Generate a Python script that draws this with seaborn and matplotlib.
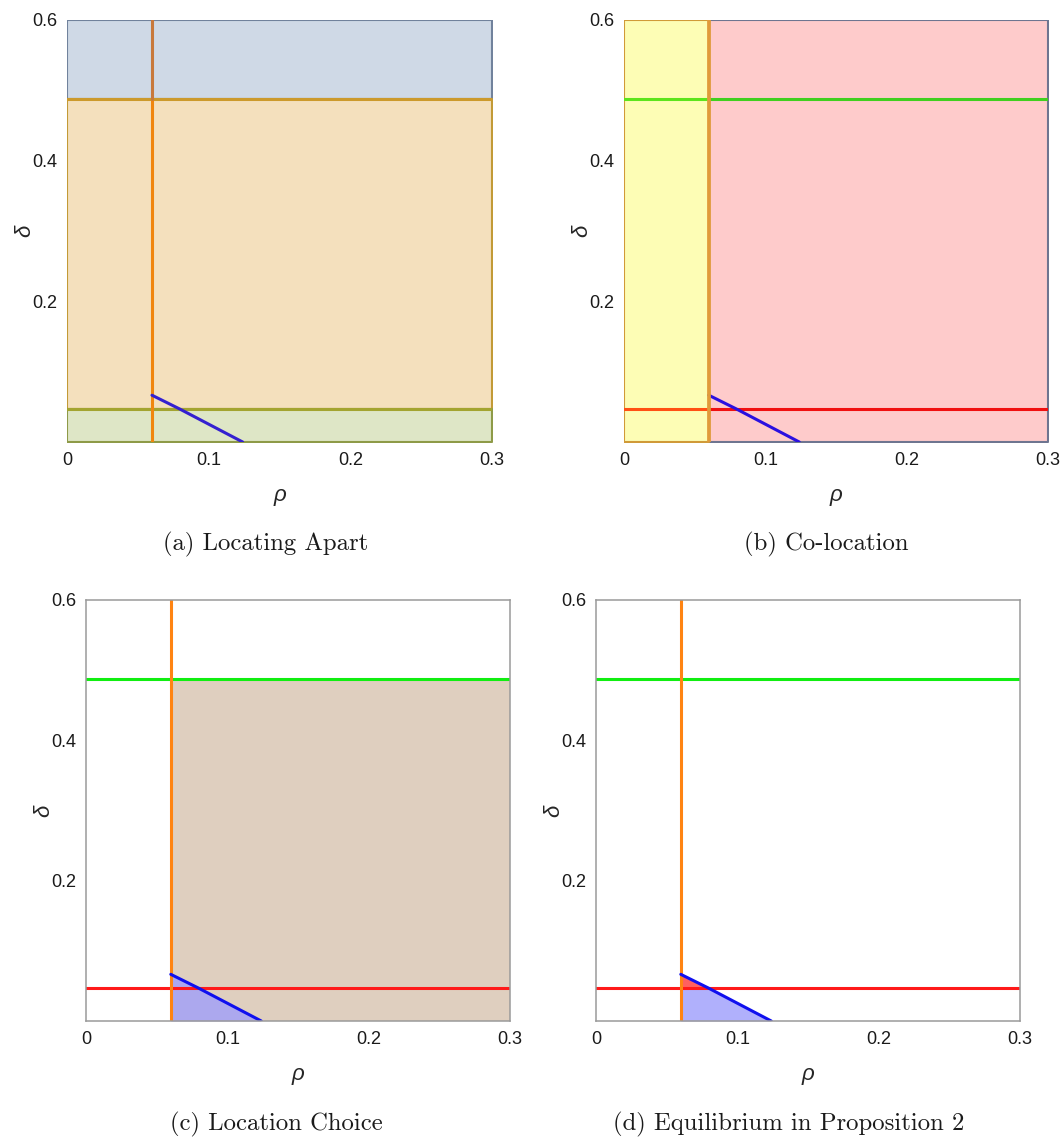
import numpy as np
import matplotlib
matplotlib.use("Agg")
import matplotlib.pyplot as plt
import seaborn as sns

# region boundaries
rho_max = 0.3
delta_max = 0.6
rho_bar = 0.06      # vertical orange line
delta_hi = 0.487    # upper horizontal line
delta_lo = 0.047    # lower horizontal line
# blue boundary: start, crossing with delta_lo, end on the axis
blue_rho = np.array([0.06, 0.0795, 0.1240])
blue_delta = np.array([0.0665, 0.047, 0.0])

x_ticks = [0, 0.1, 0.2, 0.3]
x_labels = ["0", "0.1", "0.2", "0.3"]
y_ticks = [0.2, 0.4, 0.6]
y_labels = ["0.2", "0.4", "0.6"]
captions = ["(a) Locating Apart", "(b) Co-location",
            "(c) Location Choice", "(d) Equilibrium in Proposition 2"]

sns.set_theme(style="white")
plt.rcParams['font.family'] = ['Liberation Sans', 'DejaVu Sans']

W, H = 1062, 1140
fig = plt.figure(figsize=(W / 100, H / 100), dpi=100)

def add_ax(l, t, r, b):
    return fig.add_axes([l / W, 1 - b / H, (r - l) / W, (b - t) / H])

def style(ax, frame=None):
    ax.set_xlim(0, rho_max)
    ax.set_ylim(0, delta_max)
    ax.set_xticks(x_ticks)
    ax.set_xticklabels(x_labels)
    ax.set_yticks(y_ticks)
    ax.set_yticklabels(y_labels)
    ax.tick_params(direction="in", length=4, width=1, color="#8a8a8a",
                   labelsize=13, labelcolor="#1a1a1a", pad=7)
    for s in ax.spines.values():
        if frame is None:
            s.set_visible(False)
        else:
            s.set_color(frame)
            s.set_linewidth(1.1)
    ax.set_xlabel("ρ", fontsize=16, fontstyle="italic", labelpad=12)
    ax.set_ylabel("δ", fontsize=16, fontstyle="italic", labelpad=-2)

full = [0, rho_max]
left = [0, rho_bar]
right = [rho_bar, rho_max]
lw = 2.2

# (a) Locating Apart
ax = add_ax(67, 20, 492, 442)
ax.fill_between(full, delta_hi, delta_max, facecolor="#cfd9e6", edgecolor="#71829c", lw=1.5)
ax.fill_between(full, delta_lo, delta_hi, facecolor="#f4e0bd", edgecolor="#c29a36", lw=1.5)
ax.fill_between(full, 0, delta_lo, facecolor="#dee6c6", edgecolor="#8e9a48", lw=1.5)
ax.plot(full, [delta_lo, delta_lo], color="#a3a430", lw=lw)
ax.plot(full, [delta_hi, delta_hi], color="#cc9a2c", lw=lw)
ax.plot([rho_bar, rho_bar], [0, delta_hi], color="#f0860e", lw=lw)
ax.plot([rho_bar, rho_bar], [delta_hi, delta_max], color="#c8793c", lw=lw)
sns.lineplot(x=blue_rho, y=blue_delta, color="#3420d0", lw=lw, ax=ax)
style(ax)

# (b) Co-location
ax = add_ax(624, 20, 1048, 442)
ax.fill_between(right, 0, delta_max, facecolor="#fecbcb", edgecolor="#6e7590", lw=1.5)
ax.fill_between(left, 0, delta_max, facecolor="#fdfdb5", edgecolor="#d09a38", lw=1.5)
ax.plot(left, [delta_hi, delta_hi], color="#5ce41c", lw=lw)
ax.plot(right, [delta_hi, delta_hi], color="#40cf1f", lw=lw)
ax.plot(left, [delta_lo, delta_lo], color="#ff5014", lw=lw)
ax.plot(right, [delta_lo, delta_lo], color="#f01010", lw=lw)
sns.lineplot(x=blue_rho, y=blue_delta, color="#2a10e0", lw=lw, ax=ax)
ax.plot([rho_bar, rho_bar], [0, delta_max], color="#e09a3a", lw=2.7)
style(ax)

# (c) Location Choice
ax = add_ax(86, 600, 510, 1021)
ax.plot(full, [delta_lo, delta_lo], color="#ff1a1a", lw=lw)
ax.fill_between(right, 0, delta_hi, color="#98622d", alpha=0.3, lw=0)
ax.fill_between(blue_rho, 0, blue_delta, color="#9c9cff", alpha=0.75, lw=0)
ax.plot(full, [delta_hi, delta_hi], color="#11ee11", lw=lw)
ax.plot([rho_bar, rho_bar], [0, delta_max], color="#ff8412", lw=lw)
sns.lineplot(x=blue_rho, y=blue_delta, color="#1010ee", lw=lw, ax=ax)
style(ax, frame="#9a9a9a")

# (d) Equilibrium in Proposition 2
ax = add_ax(596, 600, 1020, 1021)
ax.fill_between(blue_rho, 0, np.minimum(blue_delta, delta_lo), color="#b0b0fc", lw=0)
ax.fill_between(blue_rho, delta_lo, blue_delta, where=blue_delta >= delta_lo,
                color="#ff6060", lw=0)
ax.plot(full, [delta_lo, delta_lo], color="#ff1a1a", lw=lw)
ax.plot(full, [delta_hi, delta_hi], color="#11ee11", lw=lw)
ax.plot([rho_bar, rho_bar], [0, delta_max], color="#ff8412", lw=lw)
sns.lineplot(x=blue_rho, y=blue_delta, color="#1010ee", lw=lw, ax=ax)
style(ax, frame="#9a9a9a")

cap_pos = [(266, 544), (826, 544), (276, 1124), (789, 1124)]
for (cx, cy), txt in zip(cap_pos, captions):
    fig.text(cx / W, 1 - cy / H, txt, ha="center", va="center",
             fontsize=17.8, family=["cmr10", "DejaVu Serif"], color="#1a1a1a")

fig.savefig("out.png", dpi=100)
